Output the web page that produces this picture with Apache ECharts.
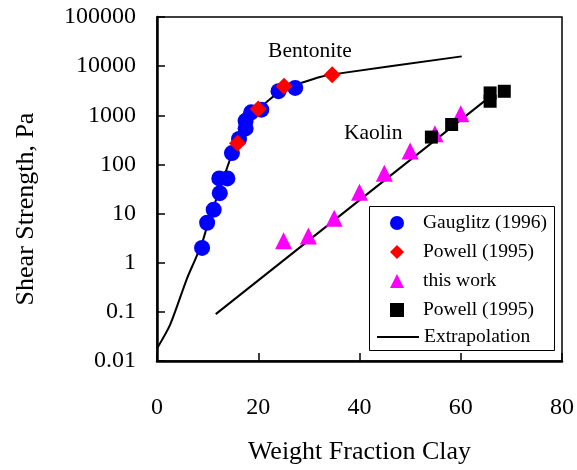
<!DOCTYPE html>
<html>
<head>
<meta charset="utf-8">
<script src="https://cdn.jsdelivr.net/npm/echarts@6/dist/echarts.min.js"></script>
<style>
  html, body { margin: 0; padding: 0; background: #fff; }
  #chart { width: 577px; height: 470px; }
</style>
</head>
<body>
<div id="chart"></div>
<script>
// Bentonite: Gauglitz (1996) measurements [weight fraction clay, shear strength Pa]
const gauglitz1996 = [
  [8.9, 2.0], [9.9, 6.5], [11.2, 12], [12.4, 26], [12.3, 52], [13.9, 52],
  [14.8, 170], [16.2, 330], [17.5, 540], [17.5, 770], [18.6, 1150],
  [20.6, 1300], [24.0, 3100], [27.3, 3600]
];
// Bentonite: Powell (1995)
const powellBentonite = [[15.9, 270], [20.0, 1350], [25.1, 3900], [34.6, 6700]];
// Kaolin: this work
const thisWork = [
  [25.0, 2.8], [29.9, 3.5], [35.0, 8.0], [40.0, 27], [44.9, 66],
  [50.0, 187], [54.9, 420], [60.0, 1070]
];
// Kaolin: Powell (1995)
const powellKaolin = [[54.2, 360], [58.2, 650], [65.8, 1930], [65.8, 2850], [68.6, 3080]];
// Extrapolation curves
const bentoniteFit = [
  [0, 0.018], [2.6, 0.055], [5.9, 0.47], [7.6, 1.2], [9, 2.7], [10, 6],
  [11, 12], [12, 24], [13, 48], [14, 95], [15, 180], [16, 300], [17, 480],
  [18, 720], [19, 1000], [20, 1300], [22, 2000], [24, 2900], [26, 3700],
  [28.9, 4700], [32.2, 6000], [34.7, 6800], [60.2, 15800]
];
const kaolinFit = [[11.6, 0.09], [65.8, 2400]];

// Axis tick labels
const xTickLabels = ['0', '20', '40', '60', '80'];
const yTickLabels = ['0.01', '0.1', '1', '10', '100', '1000', '10000', '100000'];

// Curve annotations [x, y, text]
const curveLabels = [[30.2, 20000, 'Bentonite'], [42.7, 430, 'Kaolin']];

const FONT = '"Liberation Serif", "Times New Roman", serif';
const legendText = { fontFamily: FONT, fontSize: 19.5, color: '#000', lineHeight: 20 };

const chart = echarts.init(document.getElementById('chart'), null, { renderer: 'canvas' });

chart.setOption({
  animation: false,
  backgroundColor: '#ffffff',
  textStyle: { fontFamily: FONT, color: '#000' },
  grid: {
    left: 157, right: 15, top: 17, bottom: 107,
    show: true, borderColor: '#000', borderWidth: 1.5, backgroundColor: 'transparent'
  },
  // legend frame
  graphic: [{
    type: 'rect', left: 369, top: 206, z: 50,
    shape: { width: 185, height: 144 },
    style: { fill: '#fff', stroke: '#000', lineWidth: 1 }
  }],
  legend: [
    {
      left: 390, top: 213, z: 60, padding: 0,
      orient: 'vertical',
      itemWidth: 14, itemHeight: 14, itemGap: 9,
      textStyle: Object.assign({ padding: [0, 0, 0, 14] }, legendText),
      data: [
        { name: 'Gauglitz (1996)', icon: 'circle' },
        { name: 'Powell (1995)', icon: 'diamond' },
        { name: 'this work', icon: 'triangle' },
        { name: 'Powell (1995) ', icon: 'rect' }
      ]
    },
    {
      left: 377, top: 327, z: 60, padding: 0,
      orient: 'vertical',
      itemWidth: 42, itemHeight: 2,
      textStyle: legendText,
      data: [{ name: 'Extrapolation', icon: 'rect', itemStyle: { color: '#000' } }]
    }
  ],
  xAxis: {
    type: 'value', min: 0, max: 80, interval: 20,
    name: 'Weight Fraction Clay', nameLocation: 'middle', nameGap: 78,
    nameTextStyle: { fontFamily: FONT, fontSize: 26, color: '#000' },
    axisLine: { show: true, lineStyle: { color: '#000', width: 2.5 } },
    axisTick: { show: true, inside: true, length: 8, lineStyle: { color: '#000', width: 1.5 } },
    axisLabel: {
      margin: 35, fontFamily: FONT, fontSize: 24, color: '#000',
      formatter: v => xTickLabels[Math.round(v / 20)]
    },
    splitLine: { show: false }
  },
  yAxis: {
    type: 'log', logBase: 10, min: 0.01, max: 100000,
    name: 'Shear Strength, Pa', nameLocation: 'middle', nameGap: 118, nameRotate: 90,
    nameTextStyle: { fontFamily: FONT, fontSize: 26, color: '#000', padding: [0, 40, 0, 0] },
    axisLine: { show: true, lineStyle: { color: '#000', width: 2.5 } },
    axisTick: { show: true, inside: true, length: 8, lineStyle: { color: '#000', width: 1.5 } },
    minorTick: { show: false },
    axisLabel: {
      margin: 21, fontFamily: FONT, fontSize: 24, color: '#000',
      formatter: v => yTickLabels[Math.round(Math.log10(v)) + 2]
    },
    splitLine: { show: false }
  },
  series: [
    {
      name: 'Extrapolation', type: 'line', data: bentoniteFit, smooth: 0.25,
      symbol: 'none', lineStyle: { color: '#000', width: 2 }, itemStyle: { color: '#000' }, z: 1
    },
    {
      name: 'Extrapolation', type: 'line', data: kaolinFit,
      symbol: 'none', lineStyle: { color: '#000', width: 2 }, itemStyle: { color: '#000' }, z: 1
    },
    {
      name: 'Gauglitz (1996)', type: 'scatter', data: gauglitz1996,
      symbol: 'circle', symbolSize: 16, itemStyle: { color: '#0000ff', opacity: 1 }, z: 3
    },
    {
      name: 'Powell (1995)', type: 'scatter', data: powellBentonite,
      symbol: 'diamond', symbolSize: 17, itemStyle: { color: '#ff0000', opacity: 1 }, z: 4
    },
    {
      name: 'this work', type: 'scatter', data: thisWork,
      symbol: 'triangle', symbolSize: 17, itemStyle: { color: '#ff00ff', opacity: 1 }, z: 3
    },
    {
      name: 'Powell (1995) ', type: 'scatter', data: powellKaolin,
      symbol: 'rect', symbolSize: 13, itemStyle: { color: '#000000', opacity: 1 }, z: 4
    },
    {
      // curve names
      name: 'labels', type: 'scatter', silent: true, symbolSize: 1,
      itemStyle: { opacity: 0 },
      data: curveLabels.map(c => ({ value: [c[0], c[1]], name: c[2] })),
      label: {
        show: true, position: 'inside', formatter: p => p.name,
        fontFamily: FONT, fontSize: 21.5, color: '#000', opacity: 1,
        textBorderWidth: 0
      },
      z: 5
    }
  ]
});
</script>
</body>
</html>
